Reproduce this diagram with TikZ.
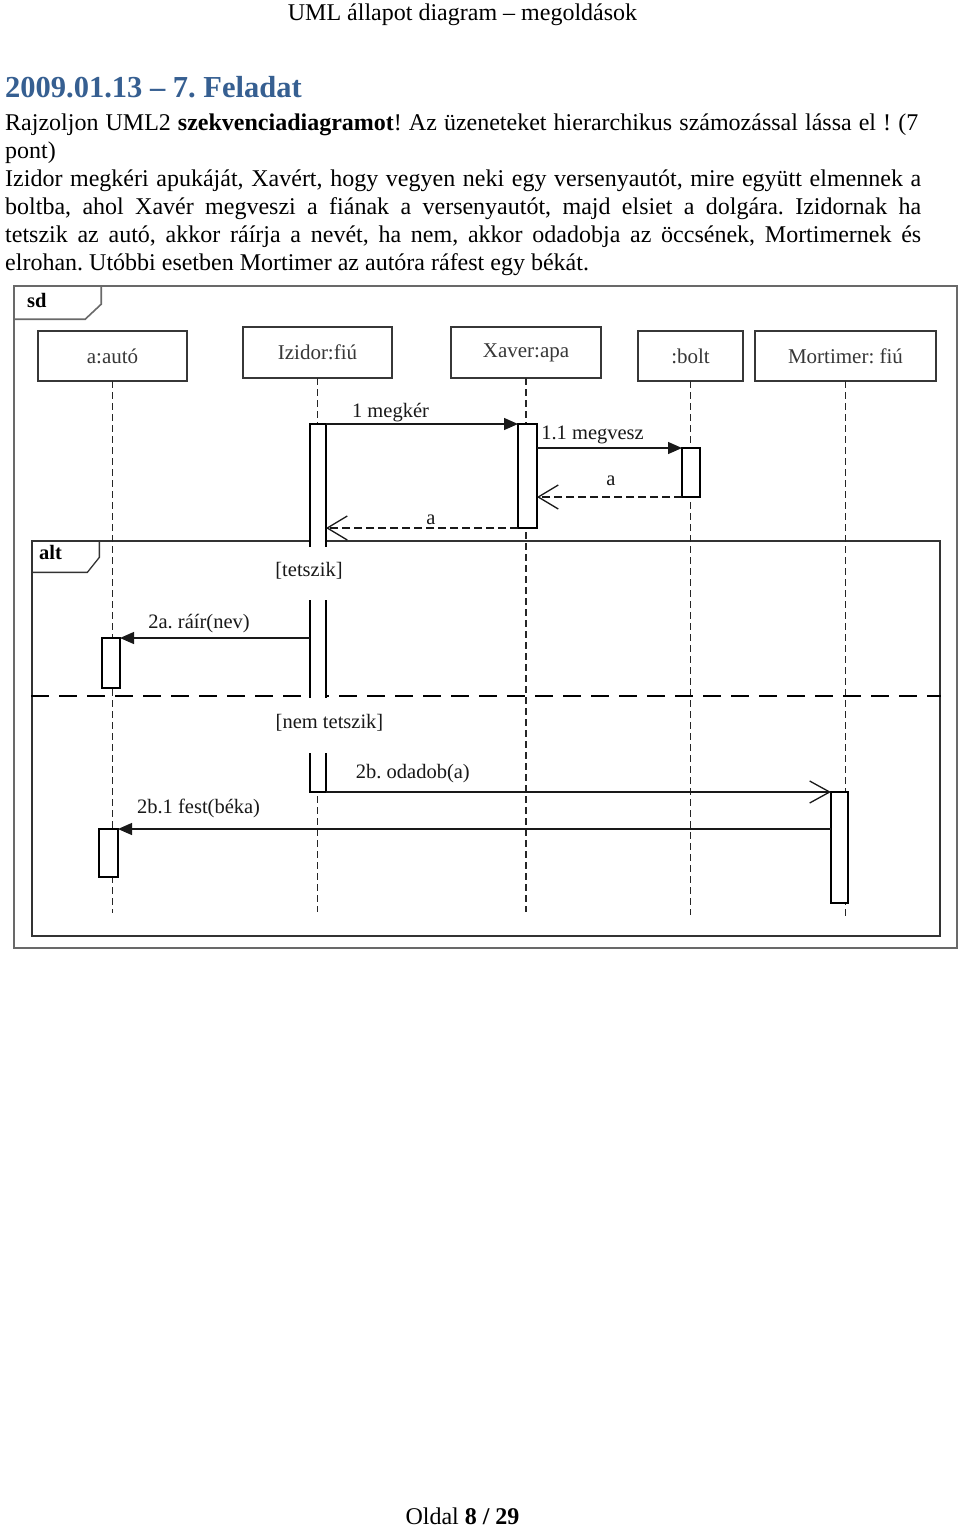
\documentclass[tikz,border=0pt]{standalone}
\usepackage{fontspec}
\setmainfont{Liberation Serif}
\usetikzlibrary{arrows.meta}
\definecolor{titleblue}{RGB}{54,95,145}
\definecolor{framegrey}{RGB}{105,105,105}
\definecolor{boxgrey}{RGB}{55,55,55}
\frenchspacing

\begin{document}
\begin{tikzpicture}[x=1pt,y=-1pt,
    body/.style={anchor=base west,inner sep=0pt,font=\fontsize{24}{28}\selectfont},
    head/.style={draw=boxgrey,line width=1.2pt,fill=white,inner sep=0pt,outer sep=0pt,text=boxgrey,font=\fontsize{21}{24}\selectfont},
    act/.style={draw=black,line width=1.1pt,fill=white,minimum width=18pt,inner sep=0pt,outer sep=0pt},
    life/.style={draw=black!85,line width=1.3pt,dash pattern=on 7pt off 4pt},
    call/.style={draw=black!90,line width=1.3pt,-{Triangle[length=14pt,width=12pt]}},
    reply/.style={draw=black!90,line width=1.3pt,dash pattern=on 8pt off 4pt,-{Straight Barb[length=20pt,width=24pt]}},
    send/.style={draw=black!90,line width=1.3pt,-{Straight Barb[length=20pt,width=22pt]}},
    lbl/.style={anchor=base,inner sep=0pt,text=black!90,font=\fontsize{20.5}{24}\selectfont},
    tab/.style={anchor=base west,inner sep=0pt,font=\fontsize{20.5}{24}\selectfont\bfseries}
]
\path[use as bounding box,fill=white] (0,0) rectangle (960,1527);

\node[anchor=base,inner sep=0pt,font=\fontsize{24}{28}\selectfont] (pagehead) at (462.5,20) {UML állapot diagram -- megoldások};
\node[anchor=base west,inner sep=0pt,text=titleblue,font=\fontsize{30.5}{36}\selectfont\bfseries] (title) at (5,97) {2009.01.13 -- 7. Feladat};
\node[body] (line1) at (5,130) {\makebox[913pt][s]{Rajzoljon UML2 \textbf{szekvenciadiagramot}! Az üzeneteket hierarchikus számozással lássa el ! (7}};
\node[body] (line2) at (5,158) {pont)};
\node[body] (line3) at (5,186) {\makebox[916pt][s]{Izidor megkéri apukáját, Xavért, hogy vegyen neki egy versenyautót, mire együtt elmennek a}};
\node[body] (line4) at (5,214) {\makebox[916pt][s]{boltba, ahol Xavér megveszi a fiának a versenyautót, majd elsiet a dolgára. Izidornak ha}};
\node[body] (line5) at (5,242) {\makebox[916pt][s]{tetszik az autó, akkor ráírja a nevét, ha nem, akkor odadobja az öccsének, Mortimernek és}};
\node[body] (line6) at (5,270) {elrohan. Utóbbi esetben Mortimer az autóra ráfest egy békát.};
\node[anchor=base,inner sep=0pt,font=\fontsize{24}{28}\selectfont] (pagefoot) at (462.5,1524) {Oldal \textbf{8 / 29}};

% frames
\node[draw=framegrey,line width=1.6pt,minimum width=943pt,minimum height=662pt,inner sep=0pt] (sd) at (485.5,617) {};
\draw[draw=framegrey,line width=1.6pt] ([xshift=88pt]sd.north west) -- ++(0,19) -- ++(-16,15) -- ++(-72,0);
\node[tab] (sdname) at (27,307) {sd};

\node[draw=black!80,line width=1.3pt,minimum width=908pt,minimum height=395pt,inner sep=0pt] (alt) at (486,738.5) {};
\draw[draw=black!80,line width=1.3pt] ([xshift=68pt]alt.north west) -- ++(0,17) -- ++(-12,15) -- ++(-56,0);
\node[tab] (altname) at (39,559) {alt};

% lifelines
\node[head,minimum width=149pt,minimum height=50pt] (auto) at (112.5,356) {a:autó};
\node[head,minimum width=149pt,minimum height=51pt] (izidor) at (317.5,352.5) {Izidor:fiú};
\node[head,minimum width=150pt,minimum height=51pt] (xaver) at (526,352.5) {Xaver:apa};
\node[head,minimum width=105pt,minimum height=50pt] (bolt) at (690.5,356) {:bolt};
\node[head,minimum width=181pt,minimum height=50pt] (mort) at (845.5,356) {Mortimer: fiú};

\draw[life] (auto.south) -- (auto.south |- 0,913);
\draw[life] (izidor.south) -- (izidor.south |- 0,912);
\draw[life] (xaver.south) -- (xaver.south |- 0,912);
\draw[life] (bolt.south) -- (bolt.south |- 0,915);
\draw[life] (mort.south) -- (mort.south |- 0,917);

\draw[line width=2pt,dash pattern=on 18pt off 10pt] (alt.west |- 0,696) -- (alt.east |- 0,696);

% activations
\node[act,draw=none,minimum width=16pt,minimum height=368pt] (iza) at (318,608) {};
\draw[line width=1.1pt] (iza.west |- 0,547) |- (iza.north east) -- (iza.east |- 0,547);
\draw[line width=1.1pt] (iza.west |- 0,600) -- (iza.west |- 0,698) (iza.east |- 0,600) -- (iza.east |- 0,698);
\draw[line width=1.1pt] (iza.west |- 0,753) |- (iza.south east) -- (iza.east |- 0,753);
\node[act,minimum width=19pt,minimum height=104pt] (xa) at (527.5,476) {};
\node[act,minimum height=49pt] (ba) at (691,472.5) {};
\node[act,minimum height=50pt] (aa1) at (111,663) {};
\node[act,minimum width=19pt,minimum height=48pt] (aa2) at (108.5,853) {};
\node[act,minimum width=17pt,minimum height=111pt] (ma) at (839.5,847.5) {};

\node[lbl] (g1) at (309,576) {[tetszik]};
\node[lbl] (g2) at (329.5,728) {[nem tetszik]};

% messages
\draw[call] (iza.north east) -- (xa.north west) node[lbl,pos=0.336,yshift=7pt] (m1) {1 megkér};
\draw[call] (xa.east |- ba.north) -- (ba.north west) node[lbl,pos=0.383,yshift=9pt] (m11) {1.1 megvesz};
\draw[reply] (ba.south west) -- (xa.east |- ba.south) node[lbl,pos=0.49,yshift=12pt] (r11) {a};
\draw[reply] (xa.south west) -- (iza.east |- xa.south) node[lbl,pos=0.453,yshift=4pt] (r1) {a};
\draw[call] (iza.west |- aa1.north) -- (aa1.north east) node[lbl,pos=0.584,yshift=10pt] (m2a) {2a. ráír(nev)};
\draw[send] (iza.south east) -- (ma.north west) node[lbl,pos=0.172,yshift=14pt] (m2b) {2b. odadob(a)};
\draw[call] (ma.west |- aa2.north) -- (aa2.north east) node[lbl,pos=0.887,yshift=16pt] (m2b1) {2b.1 fest(béka)};
\end{tikzpicture}
\end{document}
